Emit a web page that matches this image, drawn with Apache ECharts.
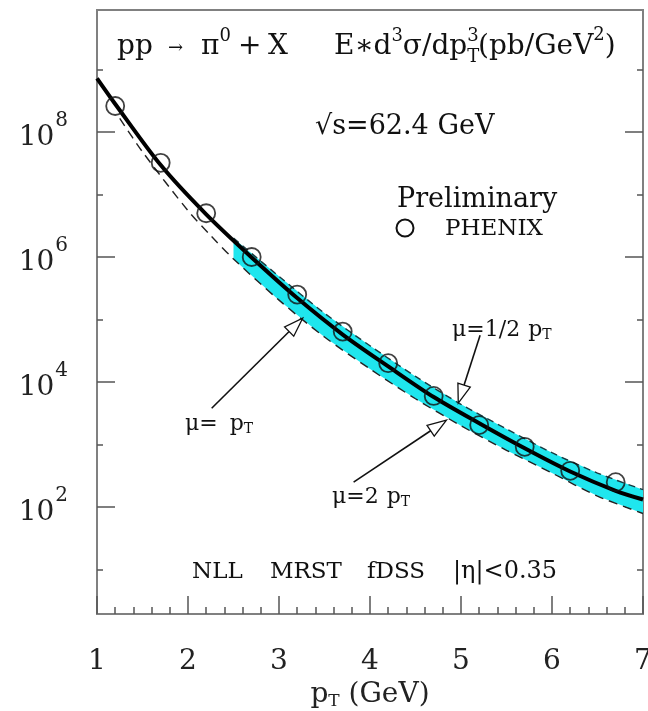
<!DOCTYPE html>
<html>
<head>
<meta charset="utf-8">
<script src="https://cdn.jsdelivr.net/npm/echarts@6/dist/echarts.min.js"></script>
<style>html,body{margin:0;padding:0;background:#fff}#c{width:648px;height:711px}</style>
</head>
<body>
<div id="c"></div>
<script>
// ---------------- data ----------------
const phenixPt = [1.2, 1.7, 2.2, 2.7, 3.2, 3.7, 4.2, 4.7, 5.2, 5.7, 6.2, 6.7];
const phenixXsec = [2.6e8, 3.2e7, 5.0e6, 1.0e6, 2.5e5, 6.4e4, 2.0e4, 6.0e3, 2.05e3, 9.2e2, 3.8e2, 2.5e2];

const curvePt = [1.0, 1.2, 1.7, 2.2, 2.7, 3.2, 3.7, 4.2, 4.7, 5.2, 5.7, 6.2, 6.7, 7.0];
const nllMuPt = [7.2e8, 2.8e8, 2.95e7, 4.8e6, 9.8e5, 2.2e5, 5.75e4, 1.78e4, 5.75e3, 2.19e3, 8.7e2, 3.7e2, 1.82e2, 1.32e2];

const lowPt = [1.25, 1.5, 2.0, 2.25, 2.5, 3.0, 3.5, 4.0, 4.5, 5.0, 5.5, 6.0, 6.5, 7.0];
const nllMu2Pt = [1.65e8, 4.8e7, 5.5e6, 2.2e6, 9.3e5, 2.04e5, 5.25e4, 1.62e4, 5.4e3, 2.0e3, 8.1e2, 3.5e2, 1.5e2, 79];

const bandPt = [2.5, 3.0, 3.5, 4.0, 4.5, 5.0, 5.5, 6.0, 6.5, 7.0];
const bandHalfPt = [2.0e6, 4.9e5, 1.26e5, 3.8e4, 1.23e4, 4.4e3, 1.78e3, 7.4e2, 3.5e2, 1.9e2];
const bandTwoPt = [9.3e5, 2.04e5, 5.25e4, 1.62e4, 5.4e3, 2.0e3, 8.1e2, 3.5e2, 1.5e2, 79];

const arrowFromX = [2.26, 5.21, 3.82];
const arrowFromY = [3.8e3, 5.6e4, 2.5e2];
const arrowToX = [3.26, 4.97, 4.84];
const arrowToY = [1.05e5, 4.6e3, 2.45e3];

const xTicks = [1, 7, 1];           // min, max, interval
const yMajor = [1e2, 1e4, 1e6, 1e8];
const yMinor = [1e1, 1e3, 1e5, 1e7, 1e9];
const yRange = [Math.pow(10, 0.29), Math.pow(10, 9.95)];

// ---------------- helpers ----------------
const FF = '"DejaVu Serif", serif';
const ctx = document.createElement('canvas').getContext('2d');
function tw(t, s) { ctx.font = s + 'px ' + FF; return ctx.measureText(t).width; }
function textLine(segs, x0, y0) {
  const out = []; let x = x0;
  segs.forEach(sg => {
    const s = sg.s || 24;
    if (sg.at != null) x = sg.at;
    out.push({
      type: 'text', x: x + (sg.dx || 0), y: y0 + (sg.dy || 0), z: 100,
      style: { text: sg.t, font: s + 'px ' + FF, fill: '#111', textAlign: 'left', textVerticalAlign: 'middle', verticalAlign: 'middle' }
    });
    if (!sg.stay) x += tw(sg.t, s) + (sg.gap || 0);
  });
  return out;
}

const H = 28, HS = 18;
const graphics = [].concat(
  textLine([{t: 'pp', s: H, at: 117}, {t: '→', s: 18, at: 168, dy: 1}, {t: 'π', s: H, at: 201}, {t: '0', s: HS, dy: -11}, {t: '+', s: H, at: 238}, {t: 'X', s: H, at: 268}], 0, 47),
  textLine([{t: 'E∗d', s: H, at: 334}, {t: '3', s: HS, dy: -11}, {t: 'σ/dp', s: H}, {t: '3', s: HS, dy: -11, stay: true}, {t: 'T', s: HS, dy: 10}, {t: '(pb/GeV', s: H, at: 478}, {t: '2', s: HS, dy: -12}, {t: ')', s: H}], 0, 47),
  textLine([{t: '√s=62.4 GeV', s: 27}], 315, 127),
  textLine([{t: 'Preliminary', s: 27}], 397, 200),
  textLine([{t: 'PHENIX', s: 23}], 445, 229),
  textLine([{t: 'NLL', s: 23}], 192, 572),
  textLine([{t: 'MRST', s: 23}], 270, 572),
  textLine([{t: 'fDSS', s: 23}], 367, 572),
  textLine([{t: '|η|<0.35', s: 24}], 453, 572),
  textLine([{t: 'μ=', s: 22, gap: 12}, {t: 'p', s: 22}, {t: 'T', s: 14, dy: 5}], 185, 424),
  textLine([{t: 'μ=1/2', s: 22, gap: 8}, {t: 'p', s: 22}, {t: 'T', s: 14, dy: 5}], 452, 330),
  textLine([{t: 'μ=2', s: 22, gap: 8}, {t: 'p', s: 22}, {t: 'T', s: 14, dy: 5}], 332, 497),
  [{type: 'circle', shape: {cx: 405, cy: 228, r: 8.5}, style: {fill: 'none', stroke: '#111', lineWidth: 2}, z: 100}]
);

const tickStyle = {color: '#555', width: 1.5};
function yAx(pos, vals, len, showLine, labels) {
  return {
    type: 'log', position: pos, min: yRange[0], max: yRange[1],
    axisLine: {show: showLine, lineStyle: {color: '#808080', width: 2}},
    axisTick: {show: true, inside: true, length: len, customValues: vals, lineStyle: tickStyle},
    splitLine: {show: false}, minorTick: {show: false},
    axisLabel: labels ? {
      show: true, customValues: vals, margin: 29,
      formatter: v => '{b|10}{s|' + Math.round(Math.log10(v)) + '}',
      rich: {
        b: {fontSize: 28, fontFamily: FF, color: '#222', padding: [12, 0, 0, 0]},
        s: {fontSize: 20, fontFamily: FF, color: '#222', padding: [0, 0, 22, 1]}
      }
    } : {show: false}
  };
}

const chart = echarts.init(document.getElementById('c'), null, {renderer: 'canvas'});
const option = {
  animation: false,
  backgroundColor: '#fff',
  grid: {left: 97, right: 5, top: 10, bottom: 97, show: true, borderColor: '#808080', borderWidth: 2,
         backgroundColor: 'transparent', containLabel: false, outerBoundsMode: 'none'},
  xAxis: {
    type: 'value', min: xTicks[0], max: xTicks[1], interval: xTicks[2],
    axisLine: {show: true, onZero: false, lineStyle: {color: '#808080', width: 2}},
    axisTick: {show: true, inside: true, length: 18, lineStyle: tickStyle},
    minorTick: {show: true, splitNumber: 5, length: 7, lineStyle: tickStyle},
    splitLine: {show: false}, minorSplitLine: {show: false},
    axisLabel: {fontFamily: FF, fontSize: 28, color: '#222', margin: 34},
    name: '{b|p}{t|T}{b| (GeV)}', nameLocation: 'middle', nameGap: 57,
    nameTextStyle: {rich: {
      b: {fontSize: 28, fontFamily: FF, color: '#222'},
      t: {fontSize: 17, fontFamily: FF, color: '#222', padding: [14, 0, 0, 0]}
    }}
  },
  yAxis: [
    yAx('left', yMajor, 18, true, true),
    yAx('left', yMinor, 6, false, false),
    yAx('right', yMajor, 18, false, false),
    yAx('right', yMinor, 6, false, false)
  ],
  graphic: graphics,
  series: [
    {
      type: 'custom', name: 'band', clip: true, z: 1,
      data: [[bandPt[0], bandHalfPt[0]]],
      renderItem: function (params, api) {
        const pts = [];
        for (let i = 0; i < bandPt.length; i++) pts.push(api.coord([bandPt[i], bandHalfPt[i]]));
        for (let i = bandPt.length - 1; i >= 0; i--) pts.push(api.coord([bandPt[i], bandTwoPt[i]]));
        return {type: 'polygon', shape: {points: pts}, style: {fill: '#1fe6ee'}};
      }
    },
    {
      type: 'line', name: 'mu=1/2pT', data: bandPt.map((x, i) => [x, bandHalfPt[i]]), showSymbol: false, smooth: 0.3, z: 2,
      lineStyle: {color: '#1a3a40', width: 1.4, type: [7, 5]}
    },
    {
      type: 'line', name: 'mu=2pT', data: lowPt.map((x, i) => [x, nllMu2Pt[i]]), showSymbol: false, smooth: 0.3, z: 2,
      lineStyle: {color: '#222', width: 1.4, type: [9, 6]}
    },
    {
      type: 'line', name: 'mu=pT', data: curvePt.map((x, i) => [x, nllMuPt[i]]), showSymbol: false, smooth: 0.3, z: 3,
      lineStyle: {color: '#000', width: 4}
    },
    {
      type: 'scatter', name: 'PHENIX', data: phenixPt.map((x, i) => [x, phenixXsec[i]]), symbol: 'circle', symbolSize: 18, z: 4,
      itemStyle: {color: 'rgba(0,0,0,0)', borderColor: '#111', borderWidth: 1.8}
    },
    {
      type: 'custom', name: 'arrows', z: 5, clip: false,
      data: arrowFromX.map((x, i) => [x, arrowFromY[i]]),
      renderItem: function (params, api) {
        const i = params.dataIndex;
        const p0 = api.coord([arrowFromX[i], arrowFromY[i]]);
        const p1 = api.coord([arrowToX[i], arrowToY[i]]);
        const dx = p1[0] - p0[0], dy = p1[1] - p0[1];
        const L = Math.hypot(dx, dy), ux = dx / L, uy = dy / L;
        const hl = 19, hw = 6.5;
        const b = [p1[0] - ux * hl, p1[1] - uy * hl];
        const l = [b[0] - uy * hw, b[1] + ux * hw], r = [b[0] + uy * hw, b[1] - ux * hw];
        return {type: 'group', children: [
          {type: 'line', shape: {x1: p0[0], y1: p0[1], x2: b[0], y2: b[1]}, style: {stroke: '#111', lineWidth: 1.6}},
          {type: 'polygon', shape: {points: [p1, l, r]}, style: {fill: '#fff', stroke: '#111', lineWidth: 1.3}}
        ]};
      }
    }
  ]
};
chart.setOption(option);
</script>
</body>
</html>
